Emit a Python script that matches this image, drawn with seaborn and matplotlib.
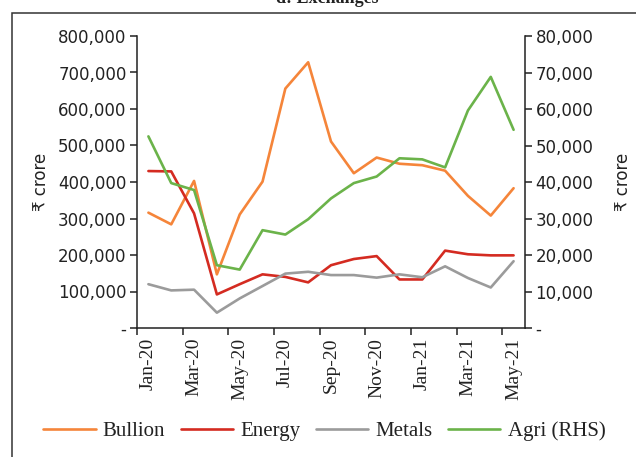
import numpy as np
import pandas as pd
import matplotlib
matplotlib.use("Agg")
import matplotlib.pyplot as plt
from matplotlib.patches import Rectangle
from matplotlib.ticker import FuncFormatter, FixedLocator
import seaborn as sns

months = ["Jan-20", "Feb-20", "Mar-20", "Apr-20", "May-20", "Jun-20", "Jul-20", "Aug-20",
          "Sep-20", "Oct-20", "Nov-20", "Dec-20", "Jan-21", "Feb-21", "Mar-21", "Apr-21", "May-21"]
bullion = [316000, 284000, 403000, 147000, 311000, 401000, 656000, 728000,
           511000, 424000, 467000, 450000, 446000, 431000, 362000, 308000, 383000]
energy = [430000, 429000, 314000, 92000, 120000, 147000, 140000, 125000,
          172000, 189000, 197000, 133000, 133000, 212000, 202000, 199000, 199000]
metals = [120000, 103000, 105000, 42000, 81000, 115000, 149000, 154000,
          145000, 145000, 138000, 147000, 139000, 169000, 137000, 111000, 183000]
agri = [52500, 39700, 37800, 17200, 16000, 26800, 25600, 29800,
        35500, 39700, 41500, 46500, 46200, 44000, 59600, 68800, 54300]

left_series = ["Bullion", "Energy", "Metals"]
right_label = "Agri (RHS)"
colors = {"Bullion": "#F5853A", "Energy": "#D42B21", "Metals": "#9B9B9B", "Agri (RHS)": "#6BB34A"}

left_ticks = [0, 100000, 200000, 300000, 400000, 500000, 600000, 700000, 800000]
right_ticks = [0, 10000, 20000, 30000, 40000, 50000, 60000, 70000, 80000]
label_months = months[::2]

sns.set_theme(style="white")
plt.rcParams["font.family"] = ["DejaVu Sans"]

df_left = pd.DataFrame({
    "month": months * 3,
    "value": bullion + energy + metals,
    "series": ["Bullion"] * len(months) + ["Energy"] * len(months) + ["Metals"] * len(months),
})
df_right = pd.DataFrame({"month": months, "value": agri, "series": [right_label] * len(months)})

fig = plt.figure(figsize=(6.36, 4.57), dpi=100)
ax = fig.add_axes([137 / 636, 1 - 328 / 457, (525 - 137) / 636, (328 - 36) / 457])
ax2 = ax.twinx()

sns.lineplot(data=df_left, x="month", y="value", hue="series", palette=colors,
             sort=False, linewidth=1.9, ax=ax, legend=False)
sns.lineplot(data=df_right, x="month", y="value", hue="series", palette=colors,
             sort=False, linewidth=1.9, ax=ax2, legend=False)

n = len(months)
ax.set_xlim(-0.5, n - 0.5)
ax.set_ylim(0, 800000)
ax2.set_ylim(0, 80000)

# x ticks at category boundaries, labels centered every 2 months
ax.xaxis.set_major_locator(FixedLocator(list(np.arange(-0.5, n - 1, 2))))
ax.xaxis.set_minor_locator(FixedLocator(list(range(0, n, 2))))
ax.set_xticklabels([], minor=False)
ax.set_xticklabels(label_months, minor=True, rotation=90,
                   family="Liberation Serif", fontsize=14)
ax.tick_params(axis="x", which="major", direction="out", length=5, width=1.1,
               color="#222222", bottom=True)
ax.tick_params(axis="x", which="minor", length=0, pad=7, labelcolor="#222222")

fmt_l = FuncFormatter(lambda v, p: "-" if v == 0 else f"{int(v):,}")
ax.set_yticks(left_ticks)
ax.yaxis.set_major_formatter(fmt_l)
ax2.set_yticks(right_ticks)
ax2.yaxis.set_major_formatter(fmt_l)
for a in (ax, ax2):
    a.tick_params(axis="y", direction="out", length=5, width=1.1, color="#222222",
                  labelsize=12, pad=2.5, labelcolor="#222222")
ax.tick_params(axis="y", left=True)
ax2.tick_params(axis="y", right=True)

ax.set_xlabel("")
ax.set_ylabel("₹ crore", fontsize=12, color="#222222", labelpad=6)
ax2.set_ylabel("₹ crore", fontsize=12, color="#222222", labelpad=15)

for a in (ax, ax2):
    a.spines["top"].set_visible(False)
    for s in ("left", "right", "bottom"):
        a.spines[s].set_color("#222222")
        a.spines[s].set_linewidth(1.1)
ax.spines["right"].set_visible(False)
ax2.spines["left"].set_visible(False)
ax2.spines["bottom"].set_visible(False)
ax.grid(False)
ax2.grid(False)

handles = list(ax.get_lines()[:3]) + list(ax2.get_lines()[:1])
labels = left_series + [right_label]
fig.legend(handles, labels, loc="center", bbox_to_anchor=(0.51, 1 - 431 / 457), ncol=4,
           frameon=False, handlelength=2.5, handletextpad=0.35, columnspacing=0.75,
           prop={"family": "Liberation Serif", "size": 15})
for t in fig.legends[0].get_texts():
    t.set_color("#222222")

fig.text(0.515, 1 - 3 / 457, "d: Exchanges", ha="center", va="baseline",
         family="Liberation Serif", fontweight="bold", fontsize=13, color="#222222")
fig.add_artist(Rectangle((12 / 636, -0.1), 1.2, 0.1 + (457 - 13) / 457,
                         transform=fig.transFigure, fill=False, lw=1.1,
                         edgecolor="#333333", clip_on=False))

fig.savefig("out.png", dpi=100)
